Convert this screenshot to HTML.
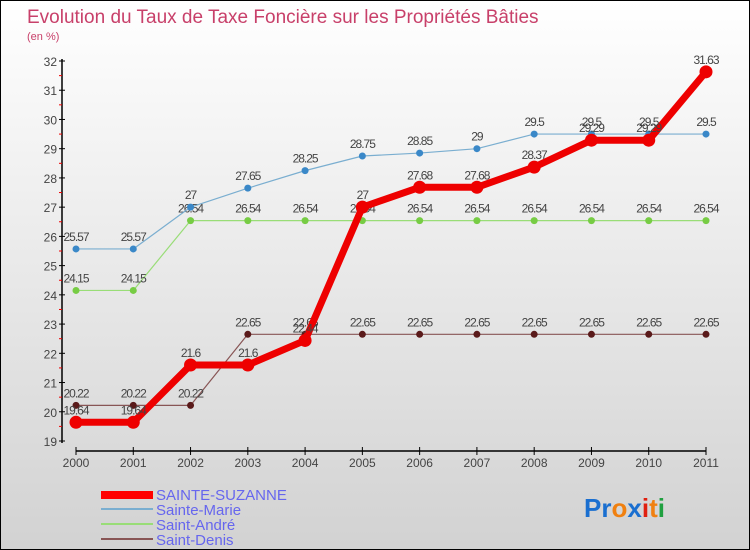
<!DOCTYPE html>
<html><head><meta charset="utf-8"><style>
body{margin:0}
#c{width:750px;height:550px;position:relative;box-sizing:border-box;border:1px solid #000;background:linear-gradient(#fff,#d2d2d2);font-family:"Liberation Sans",sans-serif;overflow:hidden}
text{font-family:"Liberation Sans",sans-serif}
</style></head><body>
<div id="c">
<svg width="750" height="550" id="s">
<text x="26" y="22" font-size="19" fill="#c8406a">Evolution du Taux de Taxe Foncière sur les Propriétés Bâties</text>
<text x="26" y="39" font-size="11" fill="#c8406a">(en %)</text>
<g id="g"></g>
<g>
<rect x="100" y="490" width="52" height="8" fill="#f00"/>
<text x="155" y="499" font-size="15" fill="#6666ee">SAINTE-SUZANNE</text>
<rect x="100" y="507" width="52" height="2" fill="#7aaed0"/>
<text x="155" y="514" font-size="15" fill="#6666ee">Sainte-Marie</text>
<rect x="100" y="522" width="52" height="2" fill="#99dd77"/>
<text x="155" y="529" font-size="15" fill="#6666ee">Saint-André</text>
<rect x="100" y="537" width="52" height="2" fill="#885555"/>
<text x="155" y="544" font-size="15" fill="#6666ee">Saint-Denis</text>
</g>
<text x="583" y="516" font-size="26" font-weight="bold"><tspan fill="#1a6fd0">Pr</tspan><tspan fill="#f08010">o</tspan><tspan fill="#1a6fd0">x</tspan><tspan fill="#e02010">i</tspan><tspan fill="#f08010">t</tspan><tspan fill="#20a040">i</tspan></text>
</svg>
</div>
<script>
const years=[2000,2001,2002,2003,2004,2005,2006,2007,2008,2009,2010,2011];
const yTicks=[19,20,21,22,23,24,25,26,27,28,29,30,31,32];
const sainteSuzanne=[19.64,19.64,21.6,21.6,22.44,27,27.68,27.68,28.37,29.29,29.29,31.63];
const sainteMarie=[25.57,25.57,27,27.65,28.25,28.75,28.85,29,29.5,29.5,29.5,29.5];
const saintAndre=[24.15,24.15,26.54,26.54,26.54,26.54,26.54,26.54,26.54,26.54,26.54,26.54];
const saintDenis=[20.22,20.22,20.22,22.65,22.65,22.65,22.65,22.65,22.65,22.65,22.65,22.65];
const NS='http://www.w3.org/2000/svg';
const g=document.getElementById('g');
const X=i=>75+i*(630/(years.length-1));
const Y=v=>60+(32-v)*(380/13);
function el(t,a){const e=document.createElementNS(NS,t);for(const k in a)e.setAttribute(k,a[k]);g.appendChild(e);return e;}
let e;
e=el('line',{x1:61,y1:58,x2:61,y2:442,stroke:'#000','stroke-width':1.5});


e=el('line',{x1:75,y1:450,x2:705,y2:450,stroke:'#000','stroke-width':1.5});


yTicks.forEach(v=>{
 e=el('line',{x1:58,x2:64,y1:Y(v),y2:Y(v),stroke:'#000'});
 
 
 if(v<32){e=el('line',{x1:58,x2:61,y1:Y(v+0.5),y2:Y(v+0.5),stroke:'#e00'});
 
 }
 e=el('text',{x:56,y:Y(v)+5,'font-size':12,fill:'#444','text-anchor':'end'});
 e.textContent=v;
 
 
});
years.forEach((yr,i)=>{
 e=el('line',{x1:X(i),x2:X(i),y1:446,y2:454,stroke:'#000'});
 
 
 e=el('text',{x:X(i),y:466,'font-size':12,fill:'#444','text-anchor':'middle'});
 e.textContent=yr;
 
 
});
function series(d,name,col,dot,w,r){
 e=el('polyline',{points:d.map((v,i)=>X(i)+','+Y(v)).join(' '),fill:'none',stroke:col,'stroke-width':w,'stroke-linejoin':'round'});
 
 
 d.forEach((v,i)=>{
  e=el('circle',{cx:X(i),cy:Y(v),r:r,fill:dot});
  
  
 });
 d.forEach((v,i)=>{
  e=el('text',{x:X(i),y:Y(v)-8,'font-size':12,fill:'#444','text-anchor':'middle','letter-spacing':'-1'});
  e.textContent=v;
  
  
 });
}
series(saintDenis,'saint-denis','#885555','#5a1a1a',1.2,3.5);
series(saintAndre,'saint-andre','#99dd77','#77cc44',1.2,3.5);
series(sainteMarie,'sainte-marie','#7aaed0','#3a88c8',1.2,3.5);
series(sainteSuzanne,'sainte-suzanne','#ee0000','#ee0000',7,6.5);
</script>
</body></html>
